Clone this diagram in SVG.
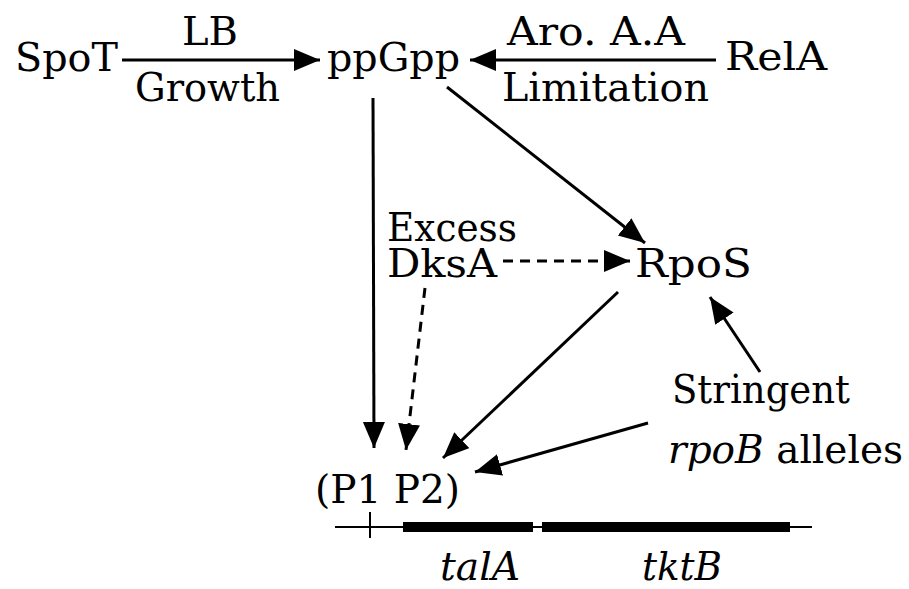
<svg xmlns="http://www.w3.org/2000/svg" width="909" height="589" viewBox="0 0 909 589">
  <style>
    text { font-family: "DejaVu Serif", "Liberation Serif", serif; font-size: 40px; fill: #000; }
    .it { font-style: italic; }
    .edge { stroke: #000; stroke-width: 3; fill: none; marker-end: url(#head); }
    .dash { stroke-dasharray: 10 7; }
    .thin { stroke: #000; stroke-width: 2; fill: none; }
    .gene { stroke: #000; stroke-width: 10; fill: none; }
  </style>
  <defs>
    <marker id="head" markerUnits="userSpaceOnUse" markerWidth="28" markerHeight="24" refX="26" refY="11" orient="auto">
      <path d="M0,0 L26,11 L0,22 z" fill="#000"/>
    </marker>
  </defs>

  <!-- regulators and signals -->
  <g id="spot"><text x="15" y="71" textLength="103" lengthAdjust="spacingAndGlyphs">SpoT</text></g>
  <g id="lb-growth">
    <text x="182" y="45" textLength="56" lengthAdjust="spacingAndGlyphs">LB</text>
    <text x="135" y="101" textLength="145" lengthAdjust="spacingAndGlyphs">Growth</text>
  </g>
  <g id="ppgpp"><text x="327" y="71" textLength="133" lengthAdjust="spacingAndGlyphs">ppGpp</text></g>
  <g id="aro-limitation">
    <text x="507" y="45" textLength="178" lengthAdjust="spacingAndGlyphs">Aro. A.A</text>
    <text x="502" y="101" textLength="207" lengthAdjust="spacingAndGlyphs">Limitation</text>
  </g>
  <g id="rela"><text x="725" y="70" textLength="102" lengthAdjust="spacingAndGlyphs">RelA</text></g>
  <g id="dksa">
    <text x="387" y="241" textLength="130" lengthAdjust="spacingAndGlyphs">Excess</text>
    <text x="387" y="277" textLength="110" lengthAdjust="spacingAndGlyphs">DksA</text>
  </g>
  <g id="rpos"><text x="635" y="277" textLength="117" lengthAdjust="spacingAndGlyphs">RpoS</text></g>
  <g id="rpob">
    <text x="672" y="403" textLength="178" lengthAdjust="spacingAndGlyphs">Stringent</text>
    <text x="668" y="463" textLength="235" lengthAdjust="spacingAndGlyphs"><tspan class="it">rpoB</tspan> alleles</text>
  </g>

  <!-- promoters and operon -->
  <g id="promoters"><text x="315" y="503" textLength="145" lengthAdjust="spacingAndGlyphs">(P1 P2)</text></g>
  <g id="operon">
    <line class="thin" x1="335" y1="527" x2="812" y2="527"/>
    <line class="thin" x1="370" y1="512" x2="370" y2="538"/>
    <line class="gene" x1="403" y1="527" x2="533" y2="527"/>
    <line class="gene" x1="542" y1="527" x2="790" y2="527"/>
    <text class="it" x="440" y="580" textLength="80" lengthAdjust="spacingAndGlyphs">talA</text>
    <text class="it" x="642" y="580" textLength="80" lengthAdjust="spacingAndGlyphs">tktB</text>
  </g>

  <!-- connectors -->
  <g id="connectors">
    <line class="edge" x1="122" y1="60" x2="320" y2="60"/>
    <line class="edge" x1="716" y1="60" x2="470" y2="60"/>
    <line class="edge" x1="373" y1="98" x2="374" y2="448"/>
    <line class="edge" x1="447" y1="87" x2="645" y2="243"/>
    <line class="edge dash" x1="503" y1="261" x2="630" y2="261"/>
    <line class="edge dash" x1="425" y1="288" x2="406" y2="450"/>
    <line class="edge" x1="618" y1="292" x2="443" y2="458"/>
    <line class="edge" x1="760" y1="372" x2="710" y2="297"/>
    <line class="edge" x1="648" y1="423" x2="475" y2="472"/>
  </g>
</svg>
